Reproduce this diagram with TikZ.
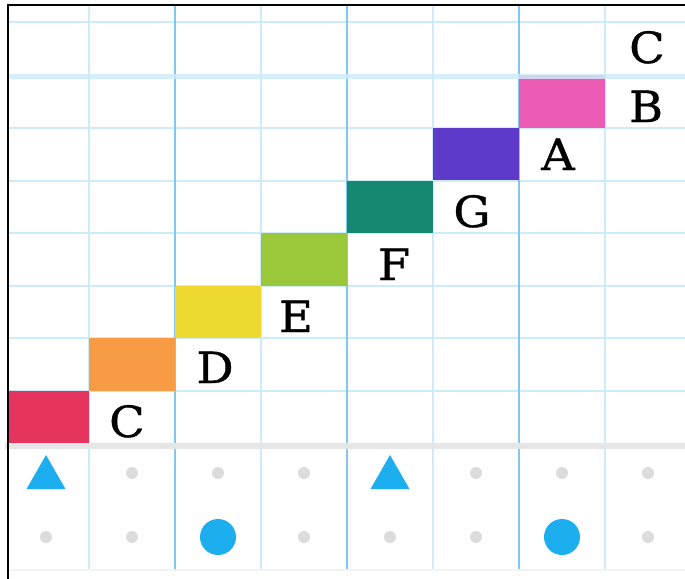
\documentclass[tikz,border=0pt]{standalone}
\usepackage{fontspec}
\newfontfamily\letterfont[FakeBold=0.9, FakeStretch=1.08]{DejaVu Serif}

\definecolor{gridminor}{RGB}{206,235,251}
\definecolor{gridmajor}{RGB}{128,200,242}
\definecolor{rulegray}{RGB}{230,230,230}
\definecolor{dotgray}{RGB}{220,220,220}
\definecolor{markblue}{RGB}{29,174,240}
\definecolor{stepred}{RGB}{229,52,93}
\definecolor{steporange}{RGB}{248,155,69}
\definecolor{stepyellow}{RGB}{237,217,48}
\definecolor{stepgreen}{RGB}{155,200,58}
\definecolor{stepteal}{RGB}{22,136,114}
\definecolor{steppurple}{RGB}{94,58,203}
\definecolor{steppink}{RGB}{235,91,179}

\begin{document}
\begin{tikzpicture}[x=1pt, y=-1pt, line cap=rect,
    minorline/.style={gridminor, line width=2pt},
    majorline/.style={gridmajor, line width=2.4pt},
    letter/.style={font=\letterfont\fontsize{43}{43}\selectfont, inner sep=0pt, anchor=base}]

\useasboundingbox (0,0) rectangle (685,578);

\begin{scope}
\clip (8,5) rectangle (685,578);

% grid
\foreach \y in {22,128,181,233,286,338,391} {
    \draw[minorline] (8,\y) -- (685,\y);
}
\foreach \x in {89,261,433,605} {
    \draw[minorline] (\x,5) -- (\x,568);
}
\foreach \x in {175,347,519} {
    \draw[majorline] (\x,5) -- (\x,568);
}

% staircase
\foreach \c/\stepcol in {0/stepred,1/steporange,2/stepyellow,3/stepgreen,4/stepteal,5/steppurple,6/steppink} {
    \fill[\stepcol] ({3+86*\c},{391-52.625*\c}) rectangle ({89+86*\c},{443.6-52.625*\c});
}
\draw[gridminor, opacity=0.85, line width=5pt] (8,76.5) -- (685,76.5);
\end{scope}

% letters
\node[letter] (c1) at (127,437) {C};
\node[letter] (d)  at (215,383) {D};
\node[letter] (e)  at (296,332) {E};
\node[letter] (f)  at (394,280) {F};
\node[letter] (g)  at (472,227) {G};
\node[letter] (a)  at (558,170) {A};
\node[letter] (b)  at (646,122) {B};
\node[letter] (c2) at (647,63)  {C};

% bottom rows
\draw[rulegray, line width=6pt] (8,446) -- (685,446);
\draw[rulegray!50, line width=2pt] (8,570) -- (685,570);

\foreach \c in {1,2,3,5,6,7} {
    \fill[dotgray] ({46+86*\c},473) circle[radius=6pt];
}
\foreach \c in {0,1,3,4,5,7} {
    \fill[dotgray] ({46+86*\c},537) circle[radius=6pt];
}
\foreach \c in {0,4} {
    \fill[markblue] ({46+86*\c},455) -- ++(19.5,34) -- ++(-39,0) -- cycle;
}
\foreach \c in {2,6} {
    \fill[markblue] ({46+86*\c},537) circle[radius=18pt];
}

% frame
\draw[black, line width=1.2pt] (8,578) -- (8,5) -- (685,5);

\end{tikzpicture}
\end{document}
